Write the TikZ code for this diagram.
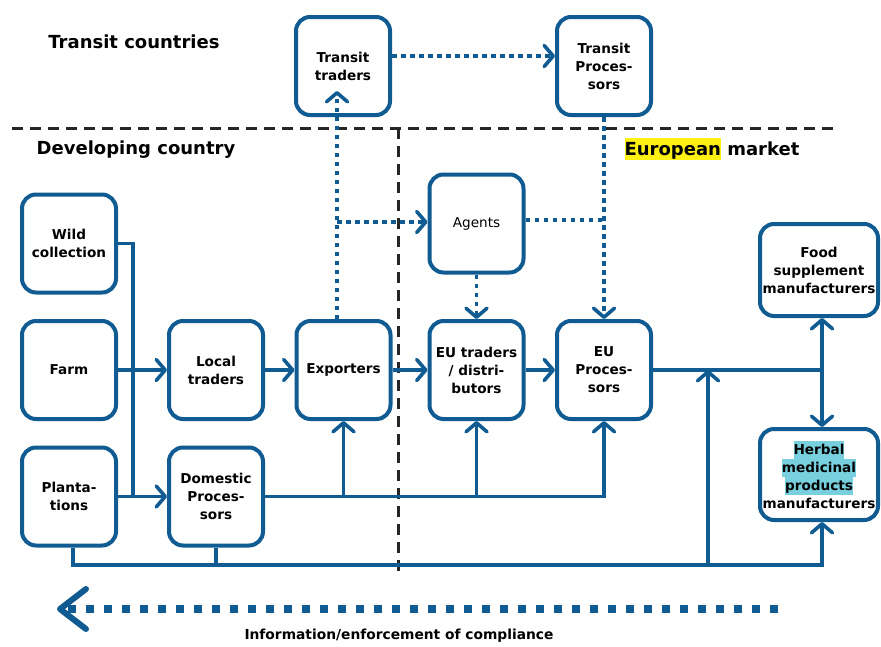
\documentclass[tikz,border=0pt]{standalone}
\usepackage{fontspec}
\setmainfont{DejaVu Sans}
\usetikzlibrary{arrows.meta}
\definecolor{flow}{RGB}{16,91,145}
\definecolor{hly}{RGB}{255,240,20}
\definecolor{hlc}{RGB}{120,208,222}
\newcommand\mkhl[4]{\setbox0=\hbox{#4}\leavevmode\rlap{\textcolor{#1}{\rule[-#2]{\wd0}{#3}}}\box0\relax}
\begin{document}
\begin{tikzpicture}[x=1pt,y=-1pt,
  box/.style={draw=flow,line width=4pt,rounded corners=14pt,fill=white,
    minimum width=94pt,minimum height=98pt,align=center,inner sep=1pt,
    font=\fontsize{13.6}{18}\selectfont\bfseries},
  flowline/.style={draw=flow,line width=3.6pt},
  arr/.style={flowline,-{Straight Barb[length=9pt,width=21pt,round]}},
  dots/.style={draw=flow,line width=3.6pt,dash pattern=on 4.5pt off 4.5pt},
  darr/.style={dots,-{Straight Barb[length=9pt,width=21pt,round]}},
  region/.style={draw=black!85,line width=3pt,dash pattern=on 11pt off 7pt},
  head/.style={font=\fontsize{18}{21}\selectfont\bfseries}]
\useasboundingbox (0,0) rectangle (881,646);

% region separators
\coordinate (rl) at (12,128);
\coordinate (rr) at (835,128);
\coordinate (rt) at (398,128);
\coordinate (rb) at (398,575);
\draw[region] (rl) -- (rr);
\draw[region] (rt) -- (rb);

% headings
\node[head] (htc) at (134,42) {Transit countries};
\node[head] (hdc) at (136,150) {Developing country};
\node[head] (hem) at (712,149) {\mkhl{hly}{5pt}{22pt}{European} market};

% boxes
\node[box] (tt) at (343,66) {Transit\\traders};
\node[box] (tp) at (604,66) {Transit\\Proces-\\sors};
\node[box] (wild) at (69,243.5) {Wild\\collection};
\node[box] (farm) at (69,370) {Farm};
\node[box] (plant) at (69,496.5) {Planta-\\tions};
\node[box] (local) at (216,370) {Local\\traders};
\node[box] (domp) at (216,496.5) {Domestic\\Proces-\\sors};
\node[box] (exp) at (343.5,370) {Exporters};
\node[box,font=\fontsize{13.6}{18}\selectfont] (agents) at (476.5,223.5) {Agents};
\node[box] (eut) at (476.5,370) {EU traders\\/ distri-\\butors};
\node[box] (eup) at (604,370) {EU\\Proces-\\sors};
\node[box,minimum width=118pt,minimum height=92pt] (food) at (819,270) {Food\\supplement\\manufacturers};
\node[box,minimum width=118pt,minimum height=91pt] (herbal) at (819,474.5)
  {\mkhl{hlc}{4.5pt}{18pt}{Herbal}\\\mkhl{hlc}{4.5pt}{18pt}{medicinal}\\\mkhl{hlc}{4.5pt}{18pt}{products}\\manufacturers};

% solid flows
\coordinate (jw) at (133,496.5);
\draw[flowline] (wild.east) -| (jw);
\draw[arr] (farm) -- (local);
\draw[arr] (plant) -- (domp);
\draw[arr] (local) -- (exp);
\draw[arr] (exp) -- (eut);
\draw[arr] (eut) -- (eup);

\coordinate (jr) at (822,370);
\draw[flowline] (eup) -- (jr);
\draw[arr] (jr) -- (jr |- food.south);
\draw[arr] (jr) -- (jr |- herbal.north);

\draw[arr] (domp.east) -| (eup.south);
\draw[arr] (exp.south |- domp.east) -- (exp.south);
\draw[arr] (eut.south |- domp.east) -- (eut.south);

\coordinate (bl) at (73,565);
\coordinate (br) at (822,565);
\coordinate (bv) at (708,565);
\draw[arr] (plant.south -| bl) -- (bl) -- (br) -- (br |- herbal.south);
\draw[flowline] (domp.south) -- (domp.south |- bl);
\draw[arr] (bv) -- (bv |- eup.east);

% dotted flows
\coordinate (ja) at (337,222);
\coordinate (ty) at (0,56);
\coordinate (ay) at (0,220);
\draw[darr] ([xshift=-6.5pt]exp.north) -- ([xshift=-6pt,yshift=26pt]tt.south);
\draw[darr] (ja) -- (agents.west |- ja);
\draw[darr] (tt.east |- ty) -- (tp.west |- ty);
\draw[darr] (tp.south) -- (eup.north);
\draw[dots] (agents.east |- ay) -- (tp.south |- ay);
\draw[darr] (agents.south) -- (eut.north);

% information arrow
\coordinate (is) at (778,609);
\coordinate (ie) at (57,609);
\draw[draw=flow,line width=8pt,dash pattern=on 8pt off 10pt,
  -{Straight Barb[length=26pt,width=40pt,line width=6pt,round]}] (is) -- (ie);
\node[font=\fontsize{13.8}{16}\selectfont\bfseries] (info) at (399,636) {Information/enforcement of compliance};
\end{tikzpicture}
\end{document}
